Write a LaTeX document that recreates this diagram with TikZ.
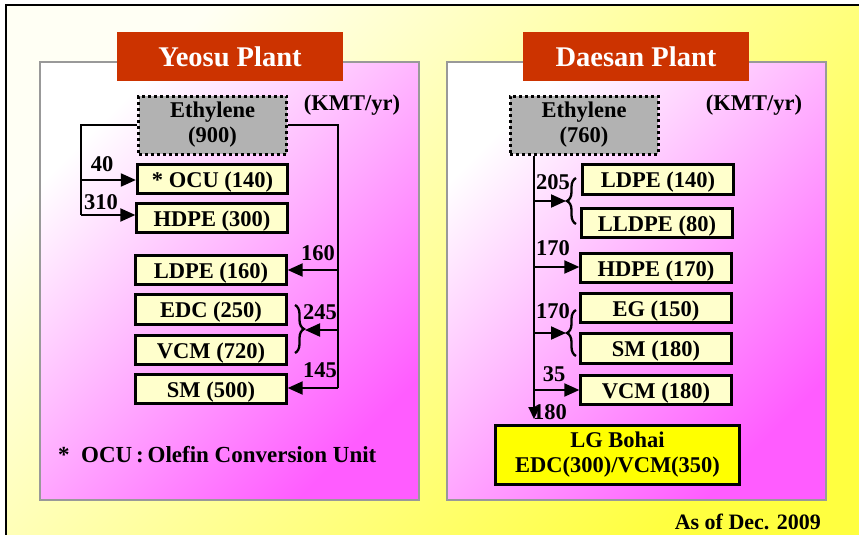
\documentclass[tikz,border=0pt]{standalone}
\usepackage{fontspec}
\setmainfont{Liberation Serif}
\usetikzlibrary{arrows.meta,decorations.pathreplacing}
\definecolor{titlered}{HTML}{CC3300}
\definecolor{boxyellow}{HTML}{FFFFCC}
\definecolor{ethgray}{HTML}{B2B2B2}
\definecolor{panelmag}{HTML}{FF5CFF}
\definecolor{bgyellow}{HTML}{FFFF40}
\definecolor{bglight}{HTML}{FFFFF4}
\definecolor{panelgray}{HTML}{999999}
\definecolor{bohaiyellow}{HTML}{FFFF00}
\begin{document}
\begin{tikzpicture}[x=1pt,y=-1pt,
  every node/.style={font=\bfseries\fontsize{22.5}{25}\selectfont, inner sep=0pt},
  prod/.style={draw=black, line width=2.8pt, fill=boxyellow, minimum width=150.5pt, minimum height=29.5pt,
    text height=21pt, text depth=5pt},
  ethbox/.style={draw=black, line width=3pt, dash pattern=on 3pt off 3pt, fill=ethgray,
    minimum width=148pt, minimum height=58pt, align=center},
  bohaibox/.style={draw=black, line width=2.8pt, fill=bohaiyellow, minimum width=244.5pt,
    minimum height=59.5pt, align=center},
  titlebox/.style={fill=titlered, text=white, minimum width=226pt, minimum height=49pt,
    font=\bfseries\fontsize{28.5}{30}\selectfont},
  flow/.style={line width=2pt, -{Triangle[length=15pt,width=13pt]}},
  smallflow/.style={line width=2pt, -{Triangle[length=12pt,width=11pt]}},
  link/.style={line width=2pt},
  brc/.style={line width=2.3pt, decorate, decoration={brace, amplitude=9pt}},
  panel/.style={draw=panelgray, line width=1.5pt, top color=white, bottom color=panelmag, shading angle=45}
]
\useasboundingbox (0,0) rectangle (859,535);
% background
\fill[white] (0,0) rectangle (859,535);
\shade[top color=bglight, bottom color=bgyellow, shading angle=45] (6,5) rectangle (859,535);
\draw[line width=2pt] (6,535) -- (6,5) -- (859,5);

% panels
\path[panel] (40,62) rectangle (419,500);
\path[panel] (447,62) rectangle (826,500);

\node[titlebox] (t1) at (230,56.5) {Yeosu Plant};
\node[titlebox] (t2) at (636,56.5) {Daesan Plant};

% ---------- Yeosu ----------
\node[ethbox] (eth1) at (212.5,125) {Ethylene\\(900)};
\node (unit1) at (352,105) {(KMT/yr)};
\node[prod] (ocu) at (212.5,179) {* OCU (140)};
\node[prod] (hdpe1) at (212,218) {HDPE (300)};
\node[prod] (ldpe1) at (211,270) {LDPE (160)};
\node[prod] (edc) at (211,309.5) {EDC (250)};
\node[prod] (vcm1) at (211,350) {VCM (720)};
\node[prod] (sm1) at (211,389) {SM (500)};

\coordinate (yl1) at (81,180);
\coordinate (yl2) at (81,215);
\coordinate (yr1) at (338,270);
\coordinate (yr2) at (338,331);
\coordinate (yr3) at (338,388);
\coordinate (b1) at (305,330);

\draw[link] (eth1.west) -| (yl2);
\draw[flow] (yl1) -- (yl1 -| ocu.west);
\draw[flow] (yl2) -- (yl2 -| hdpe1.west);
\draw[link] (eth1.east) -| (yr3);
\draw[flow] (yr1) -- (yr1 -| ldpe1.east);
\draw[flow] (yr2 |- b1) -- (b1);
\draw[flow] (yr3) -- (yr3 -| sm1.east);
\draw[brc] (295,305) -- (295,353);

\node (n40) at (102,164) {40};
\node (n310) at (101,202) {310};
\node (n160) at (318,253) {160};
\node (n245) at (320,312) {245};
\node (n145) at (320,370) {145};

\node[anchor=west, font=\bfseries\fontsize{23}{25}\selectfont] (foot) at (58,455) {*\ \ OCU\,:\,Olefin Conversion Unit};

% ---------- Daesan ----------
\node[ethbox] (eth2) at (584,125) {Ethylene\\(760)};
\node (unit2) at (754,105) {(KMT/yr)};
\node[prod] (ldpe2) at (658,179.5) {LDPE (140)};
\node[prod] (lldpe) at (657,223) {LLDPE (80)};
\node[prod] (hdpe2) at (656,268) {HDPE (170)};
\node[prod] (eg) at (656,308) {EG (150)};
\node[prod] (sm2) at (656,348.5) {SM (180)};
\node[prod] (vcm2) at (656,390) {VCM (180)};
\node[bohaibox] (bohai) at (617.5,455) {LG Bohai\\EDC(300)/VCM(350)};

\coordinate (dt) at (534,419);
\coordinate (d1) at (534,201);
\coordinate (d2) at (534,267);
\coordinate (d3) at (534,333);
\coordinate (d4) at (534,390);
\coordinate (b2) at (566,201);
\coordinate (b3) at (566,333);

\node (n205) at (553,182) {205};
\node (n170a) at (553,248) {170};
\node (n170b) at (553,311) {170};
\node (n35) at (554,374) {35};
\node (n180) at (550,412) {180};

\draw[smallflow] (eth2.south -| dt) -- (dt);
\draw[flow] (d1) -- (b2);
\draw[flow] (d2) -- (d2 -| hdpe2.west);
\draw[flow] (d3) -- (b3);
\draw[flow] (d4) -- (d4 -| vcm2.west);
\draw[brc] (576,224) -- (576,178);
\draw[brc] (576,356) -- (576,310);

\node[anchor=east, font=\bfseries\fontsize{22}{24}\selectfont] (asof) at (821,522) {As of Dec. 2009};
\end{tikzpicture}
\end{document}
